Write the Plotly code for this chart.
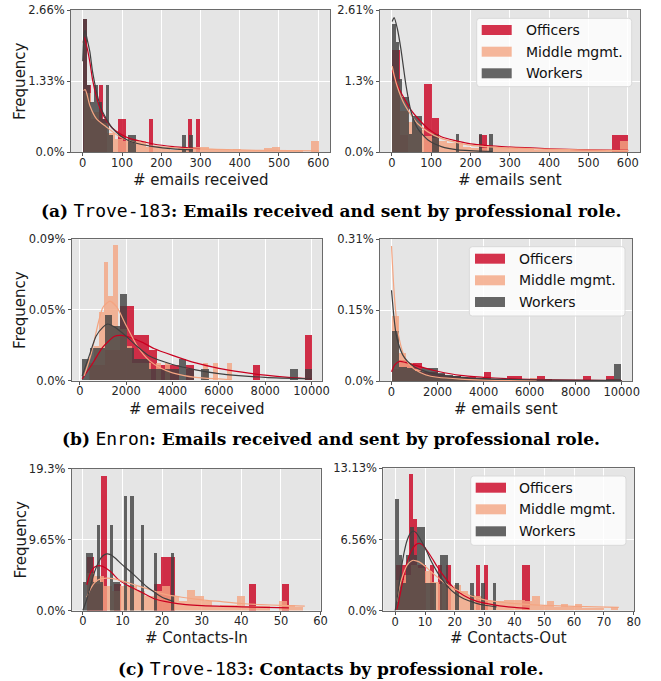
import plotly.graph_objects as go

W, H = 661, 681
ROLES = ["Officers", "Middle mgmt.", "Workers"]
COLORS = ["#ca0020", "#f4a582", "#404040"]

# ---------------- (a) Trove-183: emails received (density, %)
tr_recv_bins = [(1, 9.93), (2, 20.0), (0, 9.7)]          # (first edge, bin width): officers, middle, workers
tr_recv_off = [2.5, 1.25, 0.625, 0.625, 1.25, 0.625, 0, 0, 0, 0.625, 0.625, 0, 0, 0, 0,
               0, 0, 0.625, 0, 0, 0, 0, 0, 0, 0, 0, 0, 0.625, 0, 0.625]
tr_recv_mid = [1.1, .75, .55, .35, .25, .2, .22, .21, .1, .1, .08, .03, .08, .1, .09,
               .09, .05, .05, .03, .05, .03, .03, .03, .07, .1, .03, .03, .03, 0, .21]
tr_recv_wrk = [2.5, 1.25, .94, 1.25, .94, .62, 1.25, .31, 0, 0, 0, 0, .31, .31, 0,
               0, 0, 0, 0, 0, 0, 0, 0, 0, 0, 0, .31, 0, .31]
tr_recv_off_kde = [(1, 2.05), (4, 2.15), (8, 2.05), (18, 1.69), (25, 1.35), (35, 1.03), (45, 0.8), (60, 0.59),
                   (75, 0.45), (95, 0.34), (120, 0.25), (150, 0.2), (180, 0.15), (230, 0.1), (299, 0.06)]
tr_recv_mid_kde = [(2, 1.15), (6, 1.17), (10, 1.1), (18, 0.87), (35, 0.62), (60, 0.47), (95, 0.28), (130, 0.18),
                   (180, 0.11), (250, 0.07), (340, 0.05), (450, 0.03), (602, 0.02)]
tr_recv_wrk_kde = [(0, 1.7), (3, 2.2), (6, 2.28), (10, 2.15), (18, 1.88), (25, 1.5), (35, 1.13), (45, 0.85),
                   (60, 0.62), (75, 0.45), (95, 0.31), (120, 0.2), (150, 0.14), (180, 0.1), (230, 0.06), (281, 0.04)]

# ---------------- (a) Trove-183: emails sent
tr_sent_bins = [(1, 20.0), (1, 20.0), (1, 8.5)]
tr_sent_off = [1.875, .3125, 0, 0, 1.25, .625, 0, 0, 0, 0, 0, .3125, 0, 0, 0,
               0, 0, 0, 0, 0, 0, 0, 0, 0, 0, 0, 0, 0, .3125, .3125]
tr_sent_mid = [1.3, .75, .55, .4, .3, .25, .2, .17, .17, .1, .08, .08, .1, .1, .07,
               .07, .05, .06, .03, .03, .03, .03, .02, .02, .02, .02, .02, .03, .03, .21]
tr_sent_wrk = [2.35, 2.02, 1.34, 1.01, 1.01, .34, .67, .67, .67, 0, 0, 0, .34, .34, 0,
               0, 0, 0, 0, .34, 0, 0, 0, 0, 0, 0, .34, 0, 0, .34]
tr_sent_off_kde = [(1, 1.5), (4, 1.45), (14, 1.23), (31, 0.99), (49, 0.77), (66, 0.62), (92, 0.43), (126, 0.28),
                   (194, 0.16), (279, 0.1), (400, 0.06), (500, 0.04), (601, 0.03)]
tr_sent_mid_kde = [(1, 1.58), (6, 1.41), (14, 1.2), (31, 0.89), (49, 0.68), (66, 0.52), (92, 0.37), (126, 0.25),
                   (194, 0.13), (279, 0.08), (400, 0.05), (500, 0.035), (601, 0.025)]
tr_sent_wrk_kde = [(1, 2.4), (6, 2.47), (14, 2.27), (23, 1.9), (36, 1.23), (49, 0.74), (66, 0.43), (92, 0.22),
                   (126, 0.1), (168, 0.04), (256, 0.01)]

# ---------------- (b) Enron: emails received
en_recv_bins = [(100, 320), (190, 205), (100, 320)]
en_recv_off = [0, .0098, .0098, .0195, .0195, .0488, .0488, .0293, .0293, .0195, .0098, .0098, .0098, 0, .0098,
               0, 0, 0, 0, 0, 0, 0, 0, .0098, 0, 0, 0, 0, 0, 0, .0293]
en_recv_mid = [0, .0111, .0222, .0444, .0776, .0554, .0887, .0333, .0333, .0222, .0111, .0111, .0111, .0111, 0,
               .0111, 0, .0111, 0, 0, 0, 0, 0, 0, 0, .0111, 0, .0111, 0, 0, .0111]
en_recv_wrk = [.0142, .0213, .0213, .0426, .0355, .0568, .0213, .0142, .0142, .0071, .0071, .0071, .0071, .0142, .0071,
               0, .0071, 0, 0, 0, 0, 0, 0, 0, 0, 0, 0, 0, .0071, 0, .0071]
en_recv_off_kde = [(100, 0.001), (500, 0.01), (1000, 0.022), (1500, 0.029), (1800, 0.0295), (2200, 0.028),
                   (2700, 0.025), (3200, 0.021), (4000, 0.0165), (5000, 0.0115), (6000, 0.008), (7000, 0.0055),
                   (8000, 0.0035), (9000, 0.002), (10000, 0.001)]
en_recv_mid_kde = [(190, 0.003), (500, 0.018), (800, 0.038), (1000, 0.048), (1300, 0.052), (1600, 0.048),
                   (2000, 0.036), (2500, 0.022), (3000, 0.013), (3500, 0.008), (4000, 0.005), (5000, 0.002),
                   (6000, 0.001), (6545, 0.0005)]
en_recv_wrk_kde = [(100, 0.003), (400, 0.016), (700, 0.029), (1000, 0.035), (1200, 0.037), (1500, 0.035),
                   (2000, 0.029), (2500, 0.022), (3000, 0.016), (4000, 0.0105), (5000, 0.007), (6000, 0.0045),
                   (8000, 0.002), (10000, 0.001)]

# ---------------- (b) Enron: emails sent
en_sent_bins = [(0, 333), (10, 315), (0, 333)]
en_sent_off = [.025, .045, .038, .038, .02, .02, .015, .01, .01, .008, .008, .005, .02, .005, 0,
               .01, .01, 0, 0, .01, .004, 0, 0, 0, 0, .01, 0, 0, .01, .004]
en_sent_mid = [.14, .06, .039, .025, .015, .01, .008, .006, .004, .003, .002, .002, .001, .002, .001,
               .001, .001, .001, .001, .007]
en_sent_wrk = [.107, .03, .028, .022, .027, .027, .018, .012, .01, .008, .006, .004, .004, .003, .003,
               .003, .002, .002, .002, .002, .003, .002, .001, .001, .001, .001, .001, .001, .004, .036]
en_sent_off_kde = [(0, 0.02), (150, 0.035), (350, 0.042), (600, 0.04), (1000, 0.034), (1500, 0.027), (2000, 0.021),
                   (3000, 0.012), (4000, 0.008), (5000, 0.005), (6000, 0.0035), (8000, 0.002), (10000, 0.001)]
en_sent_mid_kde = [(0, 0.29), (100, 0.2), (200, 0.14), (300, 0.1), (500, 0.06), (700, 0.04), (1000, 0.025),
                   (1500, 0.013), (2000, 0.008), (3000, 0.004), (4000, 0.002), (5000, 0.001), (6300, 0.0005)]
en_sent_wrk_kde = [(0, 0.195), (100, 0.14), (200, 0.1), (300, 0.08), (500, 0.055), (700, 0.042), (1000, 0.03),
                   (1500, 0.02), (2000, 0.014), (3000, 0.008), (4000, 0.005), (5000, 0.0035), (7000, 0.002),
                   (10000, 0.001)]

# ---------------- (c) Trove-183: contacts in
ct_in_bins = [(1, 1.7), (1, 2.1), (0, 0.852)]
ct_in_off = [7.35, 3.68, 18.4, 0, 3.68, 0, 0, 0, 0, 0, 3.68, 7.35, 7.35, 0, 0,
             0, 0, 0, 0, 0, 0, 0, 0, 0, 3.68, 0, 0, 0, 0, 3.68]
ct_in_mid = [5.2, 4.8, 3.4, 2.7, 3.4, 3.4, 2.7, 2.0, 2.7, 3.4, 2.0, 1.4, 2.8, 2.1, 1.4,
             0.7, 0.75, 0.75, 2.1, 0.7, 0.7, 0.7, 0, 1.4, 0.8, 0.5]
ct_in_wrk = [3.91, 7.83, 7.83, 3.91, 11.74, 3.91, 0, 0, 11.74, 3.91, 3.91, 0, 15.65, 0, 15.65,
             0, 0, 11.74, 0, 0, 0, 7.83, 0, 0, 0, 0, 7.83]
ct_in_off_kde = [(1, 3.5), (2, 5.2), (3, 5.9), (4, 6.1), (5, 6.0), (7, 5.3), (9, 4.2), (11, 3.5), (14, 2.7),
                 (18, 1.6), (22, 1.1), (26, 0.8), (30, 0.65), (40, 0.5), (52, 0.35)]
ct_in_mid_kde = [(1, 1.8), (2, 3.0), (3, 3.8), (4, 4.2), (6, 4.4), (8, 4.3), (10, 4.0), (13, 3.5), (16, 3.0),
                 (20, 2.3), (25, 1.8), (30, 1.45), (35, 1.2), (40, 0.95), (45, 0.8), (50, 0.7), (56, 0.6)]
ct_in_wrk_kde = [(0, 0), (1, 1.5), (2, 3.5), (3, 5.3), (4, 6.6), (5, 7.4), (6, 7.7), (7, 7.6), (8, 7.2), (10, 6.2),
                 (12, 5.3), (14, 4.3), (16, 3.3), (18, 2.5), (20, 1.8), (23, 1.2)]

# ---------------- (c) Trove-183: contacts out
ct_out_bins = [(0.5, 1.4), (0.5, 2.4), (0, 1.26)]
ct_out_off = [4.2, 4.2, 4.2, 12.6, 8.4, 4.2, 4.2, 0, 4.2, 0, 4.2, 0, 4.2, 0, 0,
              0, 0, 0, 0, 4.2, 0, 4.2, 0, 0, 0, 0, 0, 0, 0, 0, 4.2, 4.2]
ct_out_mid = [2.8, 3.3, 4.2, 3.9, 3.6, 2.6, 2.4, 2.2, 2.3, 1.8, 1.4, 1.3, 1.0, 0.9, 0.9,
              1.0, 1.0, 1.0, 0.9, 1.3, 0.4, 0.9, 0.3, 0.6, 0.3, 0.6, 0.2, 0.2, 0.2, 0, 0.35]
ct_out_wrk = [10.24, 5.12, 2.56, 5.12, 7.68, 5.12, 7.68, 7.68, 2.56, 2.56, 2.56, 0, 5.12, 5.12, 0,
              0, 2.56, 0, 0, 0, 2.56, 0, 0, 2.56, 0, 0, 2.56]
ct_out_off_kde = [(0.5, 0.1), (1, 0.6), (2, 2.0), (3, 3.4), (4, 4.5), (5, 5.3), (6, 5.8), (7, 6.1), (8, 6.2),
                  (9, 6.1), (10, 5.8), (12, 5.0), (14, 4.1), (16, 3.3), (18, 2.6), (20, 2.0), (23, 1.4),
                  (27, 0.9), (30, 0.7), (35, 0.45), (40, 0.3), (45, 0.2)]
ct_out_mid_kde = [(0.5, 0.8), (1, 1.6), (2, 2.8), (3, 3.6), (4, 4.2), (5, 4.5), (6, 4.65), (7, 4.6), (8, 4.5),
                  (10, 4.1), (12, 3.6), (15, 2.9), (18, 2.3), (20, 2.0), (25, 1.4), (30, 1.0), (35, 0.8),
                  (40, 0.65), (50, 0.5), (60, 0.4), (75, 0.3)]
ct_out_wrk_kde = [(0, 0), (1, 1.8), (2, 3.8), (3, 5.4), (4, 6.5), (5, 7.1), (6, 7.35), (7, 7.2), (8, 6.8),
                  (10, 5.8), (12, 4.6), (14, 3.6), (16, 2.8), (18, 2.1), (20, 1.6), (23, 1.1), (27, 0.7),
                  (30, 0.5), (34, 0.35)]

# axis labels
x_titles = ["# emails received", "# emails sent", "# emails received", "# emails sent",
            "# Contacts-In", "# Contacts-Out"]
y_title = "Frequency"
x_tickvals = [list(range(0, 601, 100)), list(range(0, 601, 100)),
              list(range(0, 10001, 2000)), list(range(0, 10001, 2000)),
              list(range(0, 61, 10)), list(range(0, 81, 10))]
y_max = [2.66, 2.61, 0.0925, 0.305, 19.3, 13.13]
y_ticktext = [["0.0%", "1.33%", "2.66%"], ["0.0%", "1.3%", "2.61%"],
              ["0.0%", "0.05%", "0.09%"], ["0.0%", "0.15%", "0.31%"],
              ["0.0%", "9.65%", "19.3%"], ["0.0%", "6.56%", "13.13%"]]
captions = [
    "<b>(a)</b> <span style='font-family:DejaVu Sans Mono;font-size:18px'>Trove-183</span>"
    "<b>: Emails received and sent by professional role.</b>",
    "<b>(b)</b> <span style='font-family:DejaVu Sans Mono;font-size:18px'>Enron</span>"
    "<b>: Emails received and sent by professional role.</b>",
    "<b>(c)</b> <span style='font-family:DejaVu Sans Mono;font-size:18px'>Trove-183</span>"
    "<b>: Contacts by professional role.</b>",
]

# ---------------- layout geometry (pixels)
panel_box = [(71, 10, 330, 152), (380, 10, 640, 152),
             (71.7, 239.3, 322, 380.5), (380, 239, 632.3, 381),
             (71.7, 468.5, 320.7, 610.5), (383.3, 468.3, 634, 610.7)]
x_ranges = [[-30, 630], [-30, 631], [-350, 10450], [-500, 10460], [-2.8, 60.02], [-4, 80.1]]
x_title_y = [180, 180, 409, 409, 638, 638]
caption_y = [211, 438, 668]
legends = {1: dict(box=(476.7, 18.3, 631.7, 86.7), px=(481.7, 511.7), cy=(30, 51.7, 73.3), tx=524),
           3: dict(box=(469.3, 246.7, 625, 316), px=(475, 505), cy=(258.7, 280.3, 302), tx=516.7),
           5: dict(box=(470.7, 476, 626, 545.3), px=(475.7, 506), cy=(487.7, 509.3, 531.3), tx=517.3)}

panels = [
    (tr_recv_bins, [tr_recv_off, tr_recv_mid, tr_recv_wrk], [tr_recv_off_kde, tr_recv_mid_kde, tr_recv_wrk_kde]),
    (tr_sent_bins, [tr_sent_off, tr_sent_mid, tr_sent_wrk], [tr_sent_off_kde, tr_sent_mid_kde, tr_sent_wrk_kde]),
    (en_recv_bins, [en_recv_off, en_recv_mid, en_recv_wrk], [en_recv_off_kde, en_recv_mid_kde, en_recv_wrk_kde]),
    (en_sent_bins, [en_sent_off, en_sent_mid, en_sent_wrk], [en_sent_off_kde, en_sent_mid_kde, en_sent_wrk_kde]),
    (ct_in_bins, [ct_in_off, ct_in_mid, ct_in_wrk], [ct_in_off_kde, ct_in_mid_kde, ct_in_wrk_kde]),
    (ct_out_bins, [ct_out_off, ct_out_mid, ct_out_wrk], [ct_out_off_kde, ct_out_mid_kde, ct_out_wrk_kde]),
]


def px_x(p):
    return p / W


def px_y(p):
    return 1 - p / H


fig = go.Figure()
layout = dict(width=W, height=H, margin=dict(l=0, r=0, t=0, b=0), autosize=False,
              paper_bgcolor="white", plot_bgcolor="#e5e5e5", barmode="overlay", bargap=0,
              showlegend=False, font=dict(family="DejaVu Sans", color="#262626"))

annotations = []
for i, (bins, heights, kdes) in enumerate(panels):
    n = i + 1
    xa = "x" if n == 1 else f"x{n}"
    ya = "y" if n == 1 else f"y{n}"
    for r in range(3):
        start, width = bins[r]
        hs = heights[r]
        centers = [start + width * (k + 0.5) for k in range(len(hs))]
        fig.add_trace(go.Bar(x=centers, y=hs, width=width, xaxis=xa, yaxis=ya, name=ROLES[r],
                             marker=dict(color=COLORS[r], line=dict(width=0)), opacity=0.8))
        kx = [p[0] for p in kdes[r]]
        ky = [p[1] for p in kdes[r]]
        fig.add_trace(go.Scatter(x=kx, y=ky, xaxis=xa, yaxis=ya, mode="lines", name=ROLES[r],
                                 line=dict(color=COLORS[r], width=1.2, shape="spline", smoothing=0.6)))
    x0, y0, x1, y1 = panel_box[i]
    common = dict(showgrid=True, gridcolor="white", gridwidth=1, zeroline=False,
                  showline=True, mirror=True, linecolor="#6a6a6a", linewidth=1,
                  ticks="outside", ticklen=3, tickcolor="#555555", tickwidth=1,
                  tickfont=dict(size=11.5, color="#262626", family="DejaVu Sans"), automargin=False)
    layout["xaxis" if n == 1 else f"xaxis{n}"] = dict(
        domain=[px_x(x0), px_x(x1)], range=x_ranges[i], anchor=ya, ticklabelstandoff=-3,
        tickmode="array", tickvals=x_tickvals[i], ticktext=[str(v) for v in x_tickvals[i]], **common)
    annotations.append(dict(xref="paper", yref="paper", x=px_x((x0 + x1) / 2), y=px_y(x_title_y[i]),
                            text=x_titles[i], showarrow=False, xanchor="center", yanchor="middle",
                            font=dict(size=15, family="DejaVu Sans", color="#1a1a1a")))
    if n % 2 == 1:
        annotations.append(dict(xref="paper", yref="paper", x=px_x(20), y=px_y((y0 + y1) / 2),
                                text=y_title, textangle=-90, showarrow=False,
                                xanchor="center", yanchor="middle",
                                font=dict(size=15, family="DejaVu Sans", color="#1a1a1a")))
    ym = y_max[i]
    layout["yaxis" if n == 1 else f"yaxis{n}"] = dict(
        domain=[px_y(y1), px_y(y0)], range=[0, ym], anchor=xa,
        tickmode="array", tickvals=[0, ym / 2, ym], ticktext=y_ticktext[i], **common)

shapes = []


def rounded(x0, y0, x1, y1, r):
    X = px_x
    Y = px_y
    return (f"M {X(x0 + r)},{Y(y0)} L {X(x1 - r)},{Y(y0)} Q {X(x1)},{Y(y0)} {X(x1)},{Y(y0 + r)} "
            f"L {X(x1)},{Y(y1 - r)} Q {X(x1)},{Y(y1)} {X(x1 - r)},{Y(y1)} "
            f"L {X(x0 + r)},{Y(y1)} Q {X(x0)},{Y(y1)} {X(x0)},{Y(y1 - r)} "
            f"L {X(x0)},{Y(y0 + r)} Q {X(x0)},{Y(y0)} {X(x0 + r)},{Y(y0)} Z")


for idx, lg in legends.items():
    bx0, by0, bx1, by1 = lg["box"]
    shapes.append(dict(type="path", xref="paper", yref="paper", path=rounded(bx0, by0, bx1, by1, 3),
                       fillcolor="rgba(255,255,255,0.8)", line=dict(color="#d9d9d9", width=1), layer="above"))
    for r in range(3):
        cy = lg["cy"][r]
        shapes.append(dict(type="rect", xref="paper", yref="paper",
                           x0=px_x(lg["px"][0]), x1=px_x(lg["px"][1]), y0=px_y(cy + 5), y1=px_y(cy - 5),
                           fillcolor=COLORS[r], opacity=0.8, line=dict(width=0), layer="above"))
        annotations.append(dict(xref="paper", yref="paper", x=px_x(lg["tx"]), y=px_y(cy), text=ROLES[r],
                                showarrow=False, xanchor="left", yanchor="middle",
                                font=dict(size=14, family="DejaVu Sans", color="#111111")))

for c, cy in zip(captions, caption_y):
    annotations.append(dict(xref="paper", yref="paper", x=0.5, y=px_y(cy), text=c, showarrow=False,
                            xanchor="center", yanchor="middle",
                            font=dict(size=17, family="DejaVu Serif", color="#000000")))

layout["shapes"] = shapes
layout["annotations"] = annotations
fig.update_layout(**layout)
fig.write_html("out.html", config={"displayModeBar": False},
               post_script="document.body.style.margin='0px';document.body.style.padding='0px';"
                           "document.body.style.overflow='hidden';"
                           "document.documentElement.style.overflow='hidden';")
